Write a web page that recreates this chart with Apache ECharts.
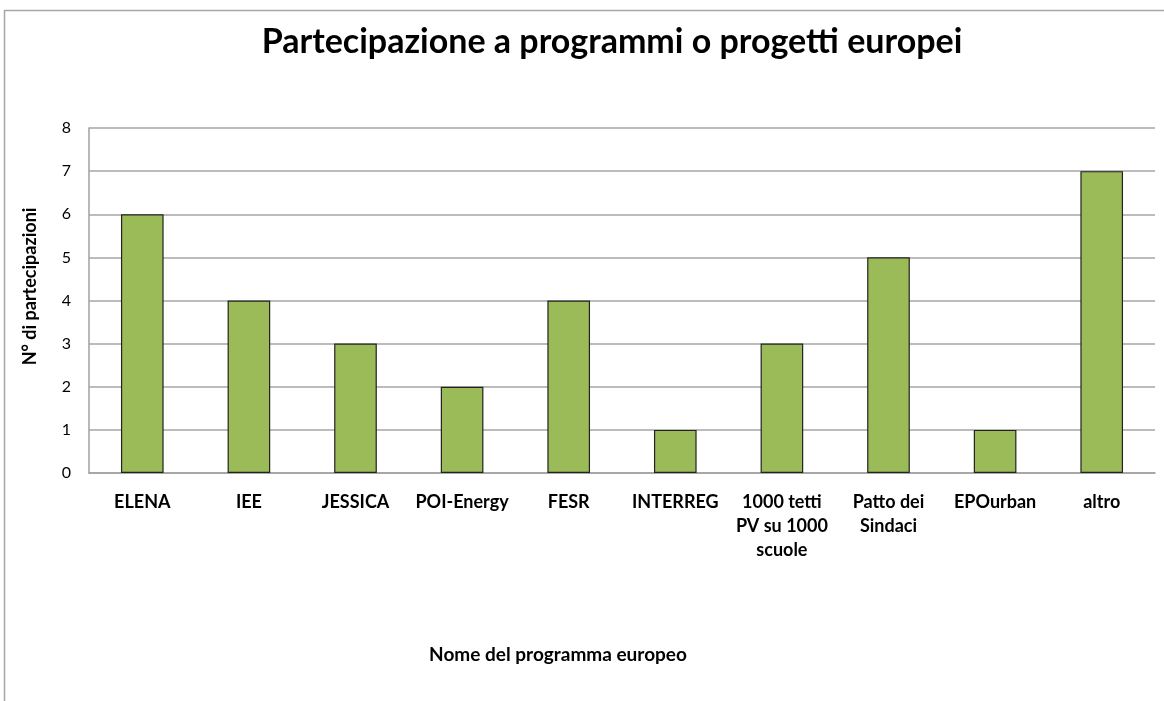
<!DOCTYPE html>
<html>
<head>
<meta charset="utf-8">
<script src="https://cdn.jsdelivr.net/npm/echarts@6/dist/echarts.min.js"></script>
<style>
  html, body { margin: 0; padding: 0; background: #fff; }
  #chart { width: 1164px; height: 701px; }
</style>
</head>
<body>
<div id="chart"></div>
<script>
// dati
const programmi = ['ELENA', 'IEE', 'JESSICA', 'POI-Energy', 'FESR', 'INTERREG',
  '1000 tetti\nPV su 1000\nscuole', 'Patto dei\nSindaci', 'EPOurban', 'altro'];
const partecipazioni = [6, 4, 3, 2, 4, 1, 3, 5, 1, 7];

const font = 'Lato, "Open Sans", sans-serif';

const chart = echarts.init(document.getElementById('chart'));
chart.setOption({
  animation: false,
  textStyle: { fontFamily: font },
  graphic: [
    {
      type: 'rect',
      shape: { x: 4.5, y: 10.5, width: 1200, height: 800 },
      style: { fill: 'none', stroke: '#a6a6a6', lineWidth: 1.5 },
      z: -1
    }
  ],
  title: {
    text: 'Partecipazione a programmi o progetti europei',
    left: 607,
    top: 20,
    textAlign: 'center',
    textStyle: { fontFamily: font, fontSize: 34, fontWeight: 'bold', color: '#000' }
  },
  grid: { left: 89, top: 128, right: 9, bottom: 228 },
  xAxis: {
    type: 'category',
    data: programmi,
    name: 'Nome del programma europeo',
    nameLocation: 'middle',
    nameGap: 172,
    nameTextStyle: {
      fontFamily: font, fontSize: 19, fontWeight: 'bold', color: '#000',
      padding: [0, 128, 0, 0]
    },
    axisLine: { lineStyle: { color: '#a0a0a0', width: 1.5 } },
    axisTick: { show: false },
    axisLabel: {
      interval: 0,
      margin: 17,
      fontSize: 18,
      fontWeight: 'bold',
      lineHeight: 24,
      color: '#000',
      verticalAlign: 'top'
    }
  },
  yAxis: {
    type: 'value',
    min: 0,
    max: 8,
    interval: 1,
    name: 'N° di partecipazioni',
    nameLocation: 'middle',
    nameGap: 50,
    nameRotate: 90,
    nameTextStyle: {
      fontFamily: font, fontSize: 18, fontWeight: 'bold', color: '#000',
      padding: [0, 0, 0, 28]
    },
    axisLine: { show: true, lineStyle: { color: '#a0a0a0', width: 1.5 } },
    axisTick: { show: false },
    splitLine: { lineStyle: { color: '#a6a6a6', width: 1.5 } },
    axisLabel: { margin: 18, fontSize: 16, color: '#000' }
  },
  series: [
    {
      type: 'bar',
      data: partecipazioni,
      barWidth: '40%',
      itemStyle: { color: '#9bbb59', borderColor: '#222', borderWidth: 1.2 }
    }
  ]
});
</script>
</body>
</html>
